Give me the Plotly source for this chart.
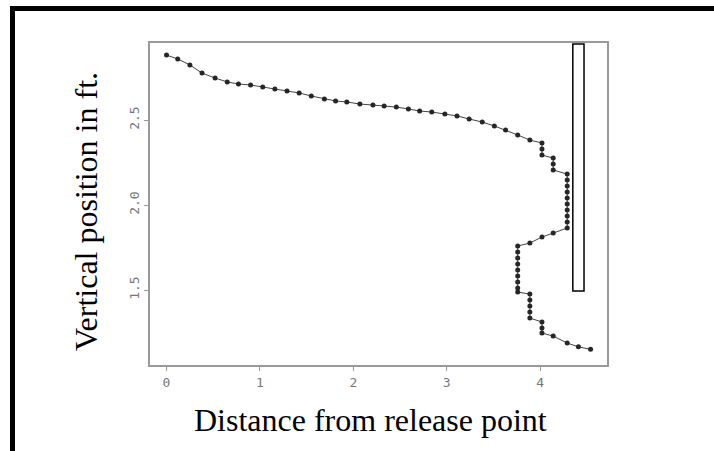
import plotly.graph_objects as go

# ---- data ----
dist = [0.00, 0.12, 0.25, 0.38, 0.52, 0.65, 0.77, 0.90, 1.03, 1.16, 1.29, 1.42, 1.55,
        1.69, 1.81, 1.93, 2.07, 2.21, 2.33, 2.46, 2.59, 2.71, 2.84, 2.98, 3.11, 3.24,
        3.38, 3.51, 3.63, 3.76, 3.89, 4.02, 4.02, 4.02, 4.14, 4.14, 4.14,
        4.29, 4.29, 4.29, 4.29, 4.29, 4.29, 4.29, 4.29, 4.29, 4.29,
        4.14, 4.02, 3.89,
        3.76, 3.76, 3.76, 3.76, 3.76, 3.76, 3.76, 3.76, 3.76,
        3.89, 3.89, 3.89, 3.89, 3.89,
        4.02, 4.02, 4.02, 4.14, 4.29, 4.41, 4.54]
height = [2.882, 2.859, 2.824, 2.776, 2.747, 2.724, 2.712, 2.706, 2.694, 2.682, 2.671,
          2.659, 2.641, 2.624, 2.612, 2.606, 2.594, 2.588, 2.582, 2.576, 2.565, 2.553,
          2.547, 2.535, 2.524, 2.506, 2.488, 2.465, 2.441, 2.412, 2.382, 2.365, 2.329,
          2.294, 2.276, 2.241, 2.206,
          2.182, 2.147, 2.112, 2.076, 2.041, 2.006, 1.971, 1.935, 1.900, 1.865,
          1.835, 1.812, 1.776,
          1.759, 1.724, 1.688, 1.653, 1.618, 1.582, 1.547, 1.512, 1.488,
          1.476, 1.441, 1.406, 1.371, 1.335,
          1.312, 1.276, 1.247, 1.229, 1.188, 1.166, 1.151]

rect_x = [4.35, 4.47]
rect_y = [1.494, 2.947]

x_ticks = [0, 1, 2, 3, 4]
y_ticks = [1.5, 2.0, 2.5]
y_tick_labels = ["1.5", "2.0", "2.5"]

x_title = "Distance from release point"
y_title = "Vertical position in ft."

# ---- layout geometry (pixels) ----
W, H = 714, 451
L, R, T, B = 150, 607, 43, 365


def px(xp):
    return (xp - L) / (R - L)


def py(yp):
    return (B - yp) / (B - T)


fig = go.Figure()
fig.add_trace(go.Scatter(
    x=dist, y=height, mode="lines+markers",
    line=dict(color="#444444", width=1),
    marker=dict(color="#262626", size=5, symbol="circle"),
    showlegend=False, hoverinfo="skip"))

fig.add_shape(type="rect", xref="x", yref="y",
              x0=rect_x[0], x1=rect_x[1], y0=rect_y[0], y1=rect_y[1],
              line=dict(color="black", width=1.5), fillcolor="white")

# outer black frame (top and left)
fig.add_shape(type="line", xref="paper", yref="paper",
              x0=px(10), x1=px(720), y0=py(8.5), y1=py(8.5),
              line=dict(color="black", width=5))
fig.add_shape(type="line", xref="paper", yref="paper",
              x0=px(12.5), x1=px(12.5), y0=py(6), y1=py(460),
              line=dict(color="black", width=5))

fig.add_annotation(text=x_title, xref="paper", yref="paper",
                   x=px(370), y=py(420), showarrow=False,
                   font=dict(family="Liberation Serif", size=32, color="black"),
                   xanchor="center", yanchor="middle")
fig.add_annotation(text=y_title, xref="paper", yref="paper",
                   x=px(86), y=py(212), showarrow=False, textangle=-90,
                   font=dict(family="Liberation Serif", size=32, color="black"),
                   xanchor="center", yanchor="middle")

axis_common = dict(showgrid=False, zeroline=False, showline=True, mirror=True,
                   linecolor="#999999", linewidth=2, ticks="outside",
                   ticklen=4, tickcolor="#999999", tickwidth=1,
                   tickfont=dict(family="DejaVu Sans Mono", size=13, color="#777777"))

fig.update_xaxes(range=[-0.177, 4.716], tickvals=x_ticks, **axis_common)
fig.update_yaxes(range=[1.059, 2.953], tickvals=y_ticks, ticktext=y_tick_labels,
                 tickangle=-90, **axis_common)

fig.update_layout(width=W, height=H, margin=dict(l=L, r=W - R, t=T, b=H - B),
                  paper_bgcolor="white", plot_bgcolor="white")

fig.write_html("out.html")
